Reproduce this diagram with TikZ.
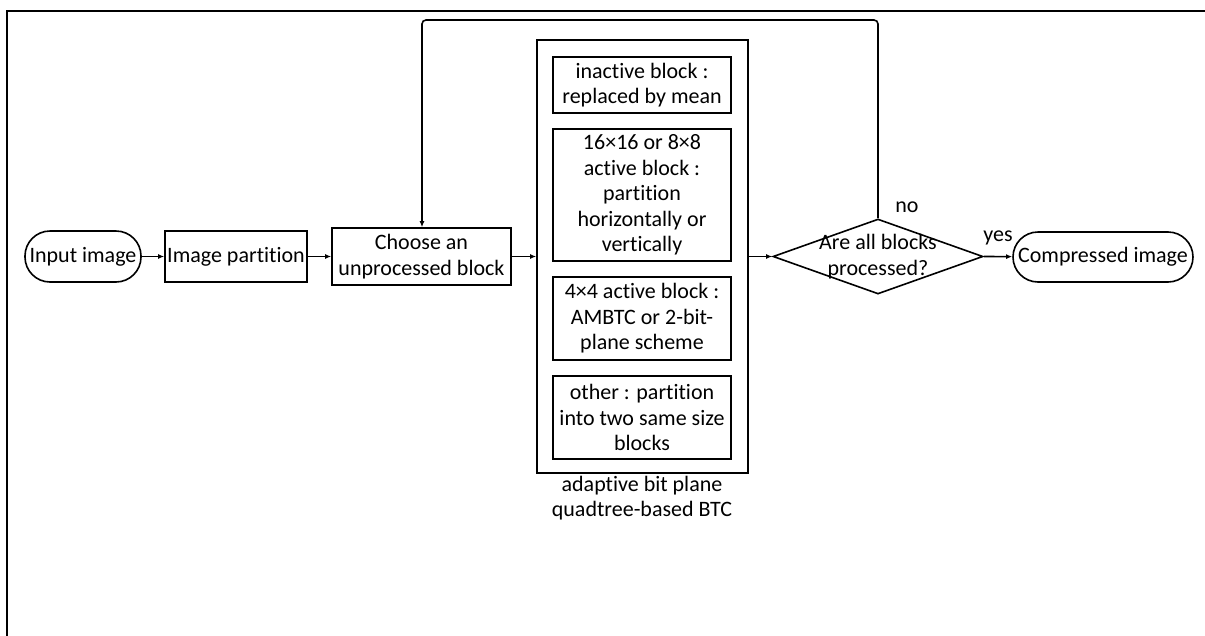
\documentclass[tikz,border=0pt]{standalone}
\usepackage{fontspec}
\setmainfont{Carlito}[Ligatures=NoCommon]
\usetikzlibrary{shapes.geometric,arrows.meta,positioning}
\begin{document}
\begin{tikzpicture}[x=1pt,y=-1pt,
  every node/.style={font=\fontsize{22}{25.5}\selectfont, inner sep=0pt, align=center},
  boxstyle/.style={draw, line width=1.6pt, rectangle},
  conn/.style={line width=1.6pt, -{Latex[length=6pt,width=5pt]}},
]
\useasboundingbox (0,0) rectangle (1205,635);
\draw[line width=2.2pt] (7,640) -- (7,11) -- (1210,11);

\node[draw, line width=1.6pt, rounded corners=25pt, minimum width=116pt, minimum height=51pt] (in) at (83,256.5) {Input image};
\node[boxstyle, minimum width=142pt, minimum height=51pt] (part) at (236,256.5) {Image partition};
\node[boxstyle, minimum width=179pt, minimum height=57pt] (choose) at (421.5,256.5) {Choose an\\unprocessed block};

\node[boxstyle, minimum width=211pt, minimum height=433pt] (big) at (642.5,256.5) {};
\node[boxstyle, minimum width=178pt, minimum height=56pt] (b1) at (642,85) {inactive block :\\replaced by mean};
\node[boxstyle, minimum width=178pt, minimum height=132pt] (b2) at (642,195) {16×16 or 8×8\\active block :\\partition\\horizontally or\\vertically};
\node[boxstyle, minimum width=178pt, minimum height=83pt] (b3) at (642,318.5) {4×4 active block :\\AMBTC or 2-bit-\\plane scheme};
\node[boxstyle, minimum width=178pt, minimum height=83pt] (b4) at (642,417.5) {other : partition\\into two same size\\blocks};
\node[anchor=north] (cap) at (642,476) {adaptive bit plane\\quadtree-based BTC};

\node[draw, line width=1.6pt, diamond, aspect=2.8, minimum width=210pt, minimum height=75pt] (dec) at (878,256.5) {};
\node (dectext) at (878,256.5) {Are all blocks\\processed?};
\node[draw, line width=1.6pt, rounded corners=25pt, minimum width=180pt, minimum height=50pt] (out) at (1103,257) {Compressed image};

\node (no) at (907,207) {no};
\node (yes) at (998,238) {yes};

\draw[conn] (in) -- (part);
\draw[conn] (part) -- (choose);
\draw[conn] (choose) -- (big);
\draw[conn] (big) -- (dec.west);
\draw[conn] (dec.east) -- (out);
\coordinate (c1) at (878,20);
\coordinate (c2) at (422,20);
\draw[conn, rounded corners=4pt] (dec.north) -- (c1) -- (c2) -- (choose.north -| c2);
\end{tikzpicture}
\end{document}
